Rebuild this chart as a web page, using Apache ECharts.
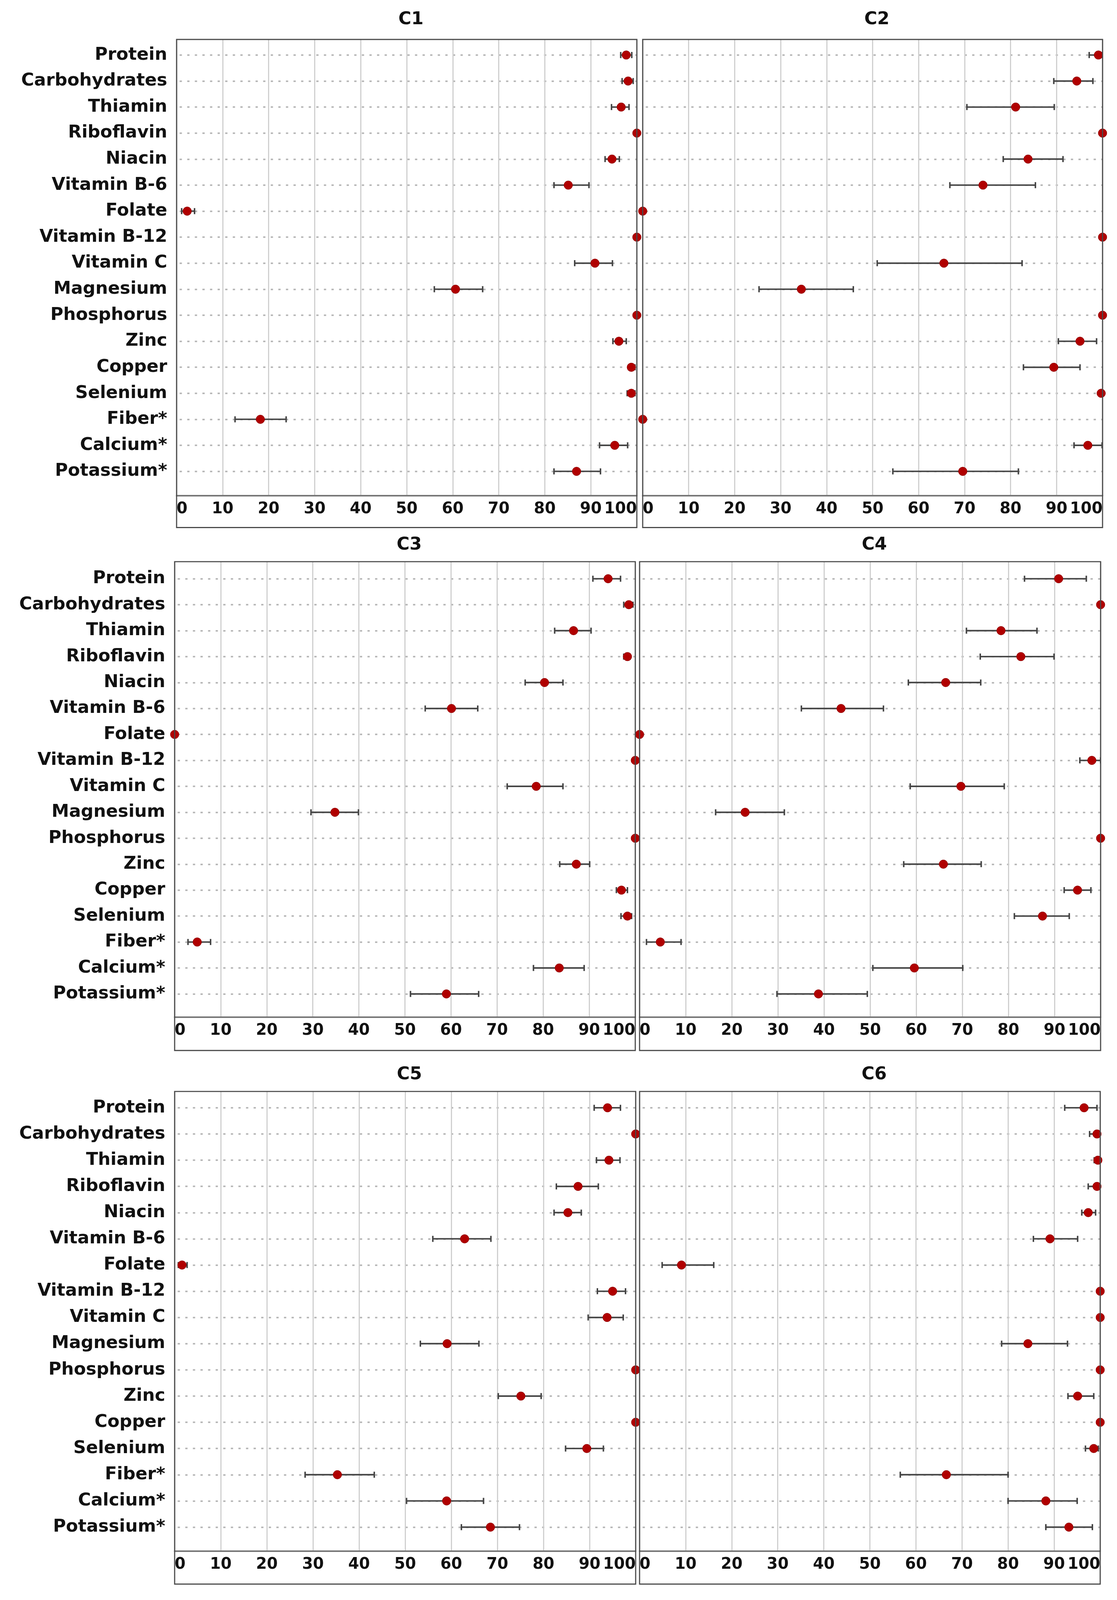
<!DOCTYPE html>
<html><head><meta charset="utf-8">
<script src="https://cdn.jsdelivr.net/npm/echarts@6/dist/echarts.min.js"></script>
<style>html,body{margin:0;padding:0;background:#fff;overflow:hidden;width:100%;height:100%}#c{width:100vw;height:100vh}</style>
</head><body><div id="c"></div>
<script>
const categories = ['Protein','Carbohydrates','Thiamin','Riboflavin','Niacin','Vitamin B-6','Folate','Vitamin B-12','Vitamin C','Magnesium','Phosphorus','Zinc','Copper','Selenium','Fiber*','Calcium*','Potassium*'];
const panelTitles = ['C1','C2','C3','C4','C5','C6'];

const c1Mean = [97.7, 98.1, 96.6, 100, 94.6, 85.1, 2.3, 100, 90.9, 60.6, 100, 96.1, 98.8, 98.8, 18.2, 95.2, 86.9];
const c1Low  = [96.5, 96.8, 94.5, 100, 93.1, 82.0, 1.1, 100, 86.5, 56.0, 100, 94.8, 98.2, 97.9, 12.7, 91.9, 82.0];
const c1High = [98.9, 99.2, 98.3, 100, 96.2, 89.6, 3.9, 100, 94.7, 66.5, 100, 97.7, 99.6, 99.6, 23.8, 98.0, 92.1];

const c2Mean = [99.1, 94.4, 81.1, 100, 83.8, 74.0, 0, 100, 65.5, 34.5, 100, 95.1, 89.4, 99.7, 0, 96.8, 69.6];
const c2Low  = [97.1, 89.4, 70.5, 100, 78.4, 66.8, 0, 100, 51.0, 25.3, 100, 90.4, 82.8, 99.4, 0, 93.8, 54.4];
const c2High = [100, 97.9, 89.5, 100, 91.4, 85.4, 0, 100, 82.5, 45.8, 100, 98.7, 95.1, 100, 0, 99.9, 81.7];

const c3Mean = [94.1, 98.6, 86.6, 98.3, 80.3, 60.1, 0, 100, 78.5, 34.8, 100, 87.2, 97.0, 98.3, 4.9, 83.5, 59.0];
const c3Low  = [90.8, 97.5, 82.5, 97.5, 76.1, 54.4, 0, 100, 72.2, 29.6, 100, 83.6, 95.9, 96.9, 2.9, 77.9, 51.2];
const c3High = [96.8, 99.5, 90.4, 98.9, 84.3, 65.8, 0, 100, 84.3, 39.9, 100, 90.1, 98.3, 99.2, 7.8, 88.9, 66.0];

const c4Mean = [90.9, 100, 78.4, 82.7, 66.4, 43.7, 0, 98.1, 69.7, 22.9, 100, 65.9, 95.0, 87.4, 4.5, 59.6, 38.8];
const c4Low  = [83.5, 100, 70.9, 73.9, 58.3, 35.1, 0, 95.5, 58.7, 16.5, 100, 57.3, 92.1, 81.3, 1.5, 50.6, 29.8];
const c4High = [96.9, 100, 86.2, 89.9, 74.0, 52.9, 0, 100, 79.1, 31.4, 100, 74.1, 97.9, 93.2, 9.0, 70.1, 49.4];

const c5Mean = [93.9, 100, 94.2, 87.5, 85.3, 62.9, 1.6, 95.0, 93.8, 59.1, 100, 75.1, 100, 89.4, 35.3, 59.0, 68.5];
const c5Low  = [91.0, 100, 91.5, 82.8, 82.3, 56.0, 0.8, 91.7, 89.7, 53.3, 100, 70.2, 100, 84.8, 28.3, 50.3, 62.2];
const c5High = [96.7, 100, 96.6, 91.9, 88.2, 68.6, 2.7, 97.8, 97.3, 66.0, 100, 79.5, 100, 93.0, 43.3, 67.0, 74.8];

const c6Mean = [96.5, 99.3, 99.5, 99.3, 97.4, 89.1, 9.1, 100, 100, 84.3, 100, 95.1, 100, 98.6, 66.6, 88.2, 93.2];
const c6Low  = [92.3, 97.7, 98.7, 97.4, 96.0, 85.5, 4.9, 100, 100, 78.6, 100, 93.0, 100, 96.8, 56.6, 80.0, 88.2];
const c6High = [99.3, 100, 100, 100, 99.0, 95.1, 16.1, 100, 100, 92.9, 100, 98.6, 100, 99.6, 80.0, 95.0, 98.3];

const panelData = [
  [c1Mean, c1Low, c1High], [c2Mean, c2Low, c2High],
  [c3Mean, c3Low, c3High], [c4Mean, c4Low, c4High],
  [c5Mean, c5Low, c5High], [c6Mean, c6Low, c6High]
];

// layout in reference pixels (2859 x 4216), scaled to the actual viewport
const REF_W = 2859, REF_H = 4216;
const rowsY = [
  {top:104, first:145, last:1242, sep:1306, bottom:1390, titleY:49},
  {top:1480, first:1525, last:2619, sep:2680, bottom:2768, titleY:1434},
  {top:2876, first:2919, last:4024, sep:4087, bottom:4174, titleY:2830}
];
const colsX = [
  [{L:452,R:1630},{L:1645,R:2822}],
  [{L:447,R:1626},{L:1637,R:2817}],
  [{L:447,R:1627},{L:1637,R:2816}]
];

const el = document.getElementById('c');
const W = el.clientWidth || REF_W, H = el.clientHeight || REF_H;
const sx = W / REF_W, sy = H / REF_H, sf = Math.min(sx, sy);

const FONT = 'DejaVu Sans';
const grids = [], xAxes = [], yAxes = [], series = [], titles = [], graphics = [];

panelTitles.forEach((name, p) => {
  const r = Math.floor(p / 2), c = p % 2;
  const ry0 = rowsY[r], cx0 = colsX[r][c];
  const ry = {}; Object.keys(ry0).forEach(k => ry[k] = ry0[k] * sy);
  const cx = {L: cx0.L * sx, R: cx0.R * sx};
  const sp = (ry.last - ry.first) / (categories.length - 1);
  const yMin = -(ry.first - ry.top) / sp;
  const yMax = (categories.length - 1) + (ry.sep - ry.last) / sp;
  const [mean, low, high] = panelData[p];
  const gB = grids.length;
  grids.push({left: cx.L, width: cx.R - cx.L, top: ry.top, height: ry.sep - ry.top, show: false});
  grids.push({left: cx.L, width: cx.R - cx.L, top: ry.first, height: ry.last - ry.first, show: false});
  xAxes.push({
    gridIndex: gB, type: 'value', min: 0, max: 100, interval: 10, position: 'bottom',
    axisLine: {show: true, onZero: false, lineStyle: {color: '#777', width: 4 * sf}},
    axisTick: {show: false},
    splitLine: {show: true, lineStyle: {color: '#cfcfcf', width: 3 * sf}},
    axisLabel: {show: true, fontFamily: FONT, fontWeight: 'bold', fontSize: 40 * sx, color: '#111',
      margin: 15 * sy, alignMinLabel: 'left', alignMaxLabel: 'right'}
  });
  xAxes.push({gridIndex: gB + 1, type: 'value', min: 0, max: 100, show: false,
    axisLine: {show: false, onZero: false}});
  yAxes.push({gridIndex: gB, type: 'value', inverse: true, min: yMin, max: yMax, show: false,
    axisLine: {show: false, onZero: false}, splitLine: {show: false}});
  yAxes.push({
    gridIndex: gB + 1, type: 'category', data: categories, inverse: true, boundaryGap: false,
    axisLine: {show: false, onZero: false}, axisTick: {show: false},
    axisLabel: {show: c === 0, interval: 0, fontFamily: FONT, fontWeight: 'bold', fontSize: 45 * sx,
      color: '#111', margin: 24 * sx},
    splitLine: {show: true, interval: 0, lineStyle: {color: '#b8b8b8', width: 4 * sf,
      type: [6 * sf, 14 * sf], dashOffset: -8 * sf}}
  });
  const barData = [];
  mean.forEach((m, i) => { if (high[i] - low[i] > 0.05) barData.push([low[i], high[i], i]); });
  series.push({
    type: 'custom', xAxisIndex: gB, yAxisIndex: gB, clip: true, z: 3,
    encode: {x: [0, 1], y: 2},
    data: barData,
    renderItem: (params, api) => {
      const a = api.coord([api.value(0), api.value(2)]);
      const b = api.coord([api.value(1), api.value(2)]);
      const h = 8 * sf, st = {stroke: '#454545', lineWidth: 4 * sf};
      return {type: 'group', children: [
        {type: 'line', shape: {x1: a[0], y1: a[1], x2: b[0], y2: b[1]}, style: st},
        {type: 'line', shape: {x1: a[0], y1: a[1] - h, x2: a[0], y2: a[1] + h}, style: st},
        {type: 'line', shape: {x1: b[0], y1: b[1] - h, x2: b[0], y2: b[1] + h}, style: st}
      ]};
    }
  });
  series.push({
    type: 'scatter', xAxisIndex: gB, yAxisIndex: gB, clip: true, z: 4,
    symbol: 'circle', symbolSize: 22 * sx,
    itemStyle: {color: '#b00000', borderColor: '#8c0000', borderWidth: 1, opacity: 1},
    data: mean.map((m, i) => [m, i])
  });
  titles.push({text: name, left: (cx.L + cx.R) / 2 + 6 * sx, top: ry.titleY - 26 * sy, textAlign: 'center',
    textStyle: {fontFamily: FONT, fontWeight: 'bold', fontSize: 45 * sx, color: '#111'}});
  graphics.push({type: 'rect', shape: {x: cx.L, y: ry.top, width: cx.R - cx.L, height: ry.bottom - ry.top},
    style: {fill: 'none', stroke: '#4a4a4a', lineWidth: 3 * sf}, z: 10, silent: true});
});

const chart = echarts.init(el, null, {renderer: 'canvas'});
chart.setOption({
  backgroundColor: '#ffffff',
  animation: false,
  title: titles,
  grid: grids,
  xAxis: xAxes,
  yAxis: yAxes,
  series: series,
  graphic: graphics
});
</script></body></html>
